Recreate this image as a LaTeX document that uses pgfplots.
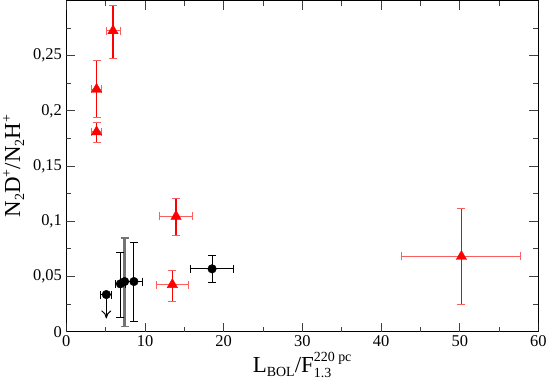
\documentclass[border=0pt]{standalone}
\usepackage{amsmath}
\usepackage{fontspec}
\setmainfont{Liberation Serif}
\usepackage{pgfplots}
\usepackage{pgfplotstable}
\pgfplotsset{compat=1.18}
\usetikzlibrary{arrows.meta}
\definecolor{pinkbar}{RGB}{250,95,95}

% x y xp xm yp ym
\pgfplotstableread{
x     y      xp    xm    yp     ym
5.93  0.2726 0.94  0.83  0.0232 0.0251
3.84  0.2196 0.63  0.68  0.0260 0.0259
3.84  0.1810 0.63  0.68  0.0084 0.0098
13.94 0.1044 2.06  2.15  0.0166 0.0176
13.47 0.0426 2.02  1.98  0.0131 0.0150
50.21 0.0681 7.46  7.57  0.0432 0.0436
}\redtri

\pgfplotstableread{
x     y      xp    xm    yp     ym
6.87  0.0433 0.60  0.63  0.0287 0.0302
8.59  0.0454 1.13  1.05  0.0351 0.0360
18.52 0.0569 2.74  2.81  0.0121 0.0124
}\blk

\pgfplotstableread{
x     y      xp    xm    yp     ym
7.41  0.0454 0     0     0.0394 0.0409
}\gry

\pgfplotstableread{
x     y      xp    xm
5.08  0.0336 0.69  0.70
}\lim

\pgfplotstableread{
x     y      u   v
5.08  0.0300 0   -0.0180
}\arr

\newcommand{\sm}[1]{\mbox{\fontsize{14}{14}\selectfont #1}}

\begin{document}
\begin{tikzpicture}
\begin{axis}[scale only axis, width=472bp, height=331bp,
  xmin=0, xmax=60, ymin=0, ymax=0.3,
  xtick={0,10,...,60}, ytick={0,0.05,...,0.25},
  minor x tick num=1, minor y tick num=1,
  tick align=inside, xtick pos=both, ytick pos=both,
  major tick length=9bp, minor tick length=5bp,
  tick style={draw=black!75, line width=1pt},
  axis line style={line width=1.1pt},
  scaled y ticks=false,
  yticklabel style={/pgf/number format/fixed, /pgf/number format/use comma, xshift=-1bp},
  /pgf/number format/assume math mode=true,
  tick label style={font=\fontsize{16.5}{19}\selectfont},
  label style={font=\fontsize{23}{26}\selectfont},
  xlabel={L\raisebox{-4bp}{\sm{BOL}}/F$^{\sm{220 pc}}_{\sm{1.3}}$},
  ylabel={N\raisebox{-4bp}{\sm{2}}D\raisebox{9bp}{\sm{+}}/N\raisebox{-4bp}{\sm{2}}H\raisebox{9bp}{\sm{+}}},
  xlabel style={yshift=1bp},
  ylabel style={yshift=2bp}]

% tick marks on all four sides (drawn explicitly)
\pgfplotsinvokeforeach{0,10,20,30,40,50,60}{
  \draw[black!75, line width=1pt] (axis cs:#1,0) -- ++(0,9bp);
  \draw[black!75, line width=1pt] (axis cs:#1,0.3) -- ++(0,-9bp);
}
\pgfplotsinvokeforeach{5,15,25,35,45,55}{
  \draw[black!75, line width=1pt] (axis cs:#1,0) -- ++(0,5bp);
  \draw[black!75, line width=1pt] (axis cs:#1,0.3) -- ++(0,-5bp);
}
\pgfplotsinvokeforeach{0.05,0.1,0.15,0.2,0.25}{
  \draw[black!75, line width=1pt] (axis cs:0,#1) -- ++(9bp,0);
  \draw[black!75, line width=1pt] (axis cs:60,#1) -- ++(-9bp,0);
}
\pgfplotsinvokeforeach{0.025,0.075,0.125,0.175,0.225,0.275}{
  \draw[black!75, line width=1pt] (axis cs:0,#1) -- ++(5bp,0);
  \draw[black!75, line width=1pt] (axis cs:60,#1) -- ++(-5bp,0);
}

% red x error bars
\addplot[only marks, mark=none,
  error bars/.cd, x dir=both, x explicit,
  error bar style={draw=pinkbar, line width=1.1pt},
  error mark options={rotate=90, draw=pinkbar, line width=1.1pt, mark size=4bp}]
  table[x=x, y=y, x error plus=xp, x error minus=xm]{\redtri};
% red y error bars and triangles
\addplot[only marks, mark=triangle*, mark size=6bp, red, mark options={fill=red, draw=red},
  error bars/.cd, y dir=both, y explicit,
  error bar style={draw=red, line width=1.1pt},
  error mark options={rotate=90, draw=pinkbar, line width=1.1pt, mark size=4bp}]
  table[x=x, y=y, y error plus=yp, y error minus=ym]{\redtri};

% gray y error bar
\addplot[only marks, mark=*, mark size=4.3bp, black,
  error bars/.cd, y dir=both, y explicit,
  error bar style={draw=black!55, line width=2.5pt},
  error mark options={rotate=90, draw=black!55, line width=1.1pt, mark size=4bp}]
  table[x=x, y=y, y error plus=yp, y error minus=ym]{\gry};
% black points
\addplot[only marks, mark=*, mark size=4.3bp, black,
  error bars/.cd, x dir=both, x explicit, y dir=both, y explicit,
  error bar style={draw=black, line width=0.9pt},
  error mark options={rotate=90, draw=black, line width=0.9pt, mark size=4bp}]
  table[x=x, y=y, x error plus=xp, x error minus=xm, y error plus=yp, y error minus=ym]{\blk};
% upper limit
\addplot[only marks, mark=*, mark size=4.3bp, black,
  error bars/.cd, x dir=both, x explicit,
  error bar style={draw=black, line width=0.9pt},
  error mark options={rotate=90, draw=black, line width=0.9pt, mark size=4bp}]
  table[x=x, y=y, x error plus=xp, x error minus=xm]{\lim};
\addplot[black, line width=1pt, -{To[length=8bp, width=10bp]},
  quiver={u=\thisrow{u}, v=\thisrow{v}}]
  table[x=x, y=y]{\arr};
\end{axis}
\end{tikzpicture}
\end{document}
